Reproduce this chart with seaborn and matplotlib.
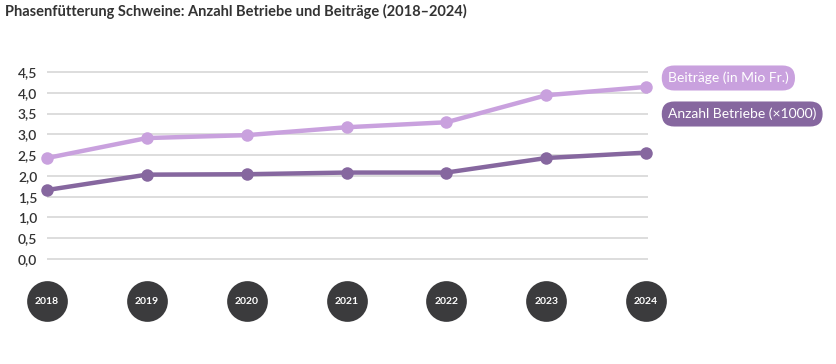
import matplotlib
matplotlib.use("Agg")
import matplotlib.pyplot as plt
import seaborn as sns
import pandas as pd

years = [2018, 2019, 2020, 2021, 2022, 2023, 2024]
beitraege = [2.43, 2.91, 2.98, 3.17, 3.29, 3.94, 4.14]
betriebe = [1.66, 2.03, 2.04, 2.08, 2.08, 2.43, 2.56]
yticks = [0.0, 0.5, 1.0, 1.5, 2.0, 2.5, 3.0, 3.5, 4.0, 4.5]
series_names = ["Beiträge (in Mio Fr.)", "Anzahl Betriebe (×1000)"]
title = "Phasenfütterung Schweine: Anzahl Betriebe und Beiträge (2018–2024)"

light = "#c9a1de"
dark = "#86679f"
txt = "#333333"

sns.set_style("white")
plt.rcParams["font.family"] = ["Lato", "DejaVu Sans"]

df = pd.DataFrame({"Jahr": years * 2,
                   "Wert": beitraege + betriebe,
                   "Reihe": [series_names[0]] * 7 + [series_names[1]] * 7})

fig = plt.figure(figsize=(8.36, 3.64), dpi=100)
W, H = 836, 364
ax = fig.add_axes([47 / W, 44 / H, (W - 47) / W, 260 / H])

pxu = 99.83
ax.set_xlim(2018 - 0.001, 2018 + (W - 47) / pxu)
pyu = 41.56
ax.set_ylim(-(320 - 259) / pyu, (259 - 60) / pyu)

ax.hlines(yticks, 2018, 2024.02, color="#d3d3d3", lw=1.1, zorder=1)

sns.lineplot(data=df, x="Jahr", y="Wert", hue="Reihe",
             palette=[light, dark], marker="o", markersize=9,
             markeredgewidth=0, linewidth=3.2, legend=False, ax=ax,
             zorder=3, clip_on=False)

# year "tick" circles
ax.scatter(years, [-(301 - 259) / pyu] * len(years), s=860, color="#3b3b3d",
           clip_on=False, zorder=4, linewidths=0)
for y in years:
    ax.text(y, -(301 - 259) / pyu, str(y), color="white", fontsize=7.5,
            fontweight="bold", ha="center", va="center", zorder=5)

ax.set_yticks(yticks)
ax.set_yticklabels([f"{v:.1f}".replace(".", ",") for v in yticks],
                   fontsize=10, color=txt, fontweight="semibold")
ax.tick_params(axis="y", length=0, pad=7)
ax.set_xticks([])
ax.set_xlabel("")
ax.set_ylabel("")
for s in ax.spines.values():
    s.set_visible(False)

# series labels
ax.text(2024 + 22 / pxu, (259 - 78) / pyu, series_names[0], color="white",
        fontsize=10, ha="left", va="center",
        bbox=dict(boxstyle="round,pad=0.45,rounding_size=0.9", fc=light, ec="none"))
ax.text(2024 + 22 / pxu, (259 - 114) / pyu, series_names[1], color="white",
        fontsize=10, ha="left", va="center",
        bbox=dict(boxstyle="round,pad=0.45,rounding_size=0.9", fc=dark, ec="none"))

fig.text(5 / W, 1 - 11 / H, title, fontsize=10.5, fontweight="bold", color=txt,
         ha="left", va="center")

fig.savefig("out.png", dpi=100)
